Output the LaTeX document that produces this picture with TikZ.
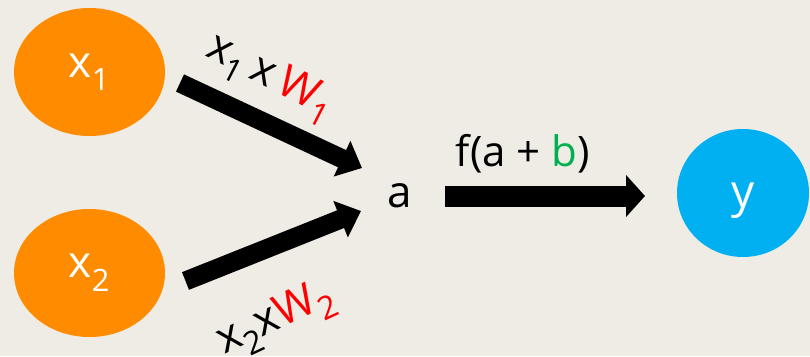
\documentclass[tikz,border=0pt]{standalone}
\usepackage{fontspec}
\setmainfont{Open Sans}
\usetikzlibrary{arrows.meta}
\definecolor{bg}{RGB}{238,236,228}
\definecolor{orng}{RGB}{255,140,0}
\definecolor{sky}{RGB}{0,176,240}
\definecolor{grn}{RGB}{0,176,80}
\newcommand{\lsub}[1]{\raisebox{-0.28em}{\fontsize{32}{32}\selectfont #1}}
\tikzset{
  inp/.style={ellipse, fill=orng, minimum width=151pt, minimum height=128pt, inner sep=0pt, text=white, font=\fontsize{44}{48}\selectfont},
  outp/.style={ellipse, fill=sky, minimum width=132pt, minimum height=128pt, inner sep=0pt, text=white, font=\fontsize{46}{48}\selectfont},
  blockarrow/.style={line width=19pt, -{Triangle[length=22pt,width=38pt]}},
  hblockarrow/.style={line width=21pt, -{Triangle[length=19pt,width=41pt]}},
  lbl/.style={font=\fontsize{44}{48}\selectfont, inner sep=0pt},
}
\usetikzlibrary{shapes.geometric}
\begin{document}
\begin{tikzpicture}[x=1pt,y=-1pt]
\fill[bg] (0,0) rectangle (810,356);
\useasboundingbox (0,0) rectangle (810,356);
\begin{scope}
\clip (0,0) rectangle (810,356);
\node[inp] (x1) at (89.5,72) {x\textsubscript{1}};
\node[inp] (x2) at (89.5,273) {x\textsubscript{2}};
\node[outp] (y) at (743,193) {\raisebox{-14pt}[0pt][0pt]{y}};
\node[font=\fontsize{44}{48}\selectfont, inner sep=0pt] (a) at (400,196) {a};
\coordinate (t1) at (180,83);
\coordinate (h1) at (362,168);
\coordinate (t2) at (185.5,281);
\coordinate (h2) at (361,211);
\coordinate (t3) at (445,196);
\coordinate (h3) at (645,196);
\draw[blockarrow] (t1) -- (h1);
\draw[blockarrow] (t2) -- (h2);
\draw[hblockarrow] (t3) -- (h3);
\node[lbl, font=\fontsize{42}{46}\selectfont] (f) at (523,154) {f(a + \textcolor{grn}{b})};
\node[lbl, rotate=-27] (l1) at (270,78) {x\lsub{1}\,x\,\textcolor{red}{W\lsub{1}}};
\node[lbl, rotate=25] (l2) at (276,320) {x\lsub{2}x\textcolor{red}{W\lsub{2}}};
\end{scope}
\end{tikzpicture}
\end{document}
